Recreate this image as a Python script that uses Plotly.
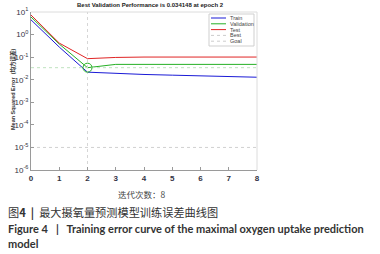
import plotly.graph_objects as go

epochs = [0, 1, 2, 3, 4, 5, 6, 7, 8]
train = [4.5, 0.28, 0.0216, 0.0189, 0.0171, 0.0159, 0.0149, 0.0139, 0.0129]
validation = [6.0, 0.38, 0.034148, 0.0478, 0.0478, 0.0478, 0.0478, 0.0478, 0.0478]
test = [7.35, 0.42, 0.0857, 0.097, 0.101, 0.101, 0.101, 0.101, 0.101]
best_epoch = 2
best_value = 0.034148
goal = 1e-5
ytick_exp = [1, 0, -1, -2, -3, -4, -5, -6]
xticks = [0, 1, 2, 3, 4, 5, 6, 7, 8]

C_TRAIN = "#1a1ad6"
C_VAL = "#25b025"
C_TEST = "#e02525"

fig = go.Figure()
fig.add_trace(go.Scatter(x=epochs, y=train, mode="lines", line=dict(color=C_TRAIN, width=1), showlegend=False))
fig.add_trace(go.Scatter(x=epochs, y=validation, mode="lines", line=dict(color=C_VAL, width=1), showlegend=False))
fig.add_trace(go.Scatter(x=epochs, y=test, mode="lines", line=dict(color=C_TEST, width=1), showlegend=False))
# best lines
fig.add_trace(go.Scatter(x=[epochs[0], epochs[-1]], y=[best_value, best_value], mode="lines",
                         line=dict(color="#bfe3bf", width=1, dash="dot"), showlegend=False))
fig.add_trace(go.Scatter(x=[best_epoch, best_epoch], y=[10 ** ytick_exp[-1], 10 ** ytick_exp[0]], mode="lines",
                         line=dict(color="#d6d6d6", width=1, dash="dot"), showlegend=False))
fig.add_trace(go.Scatter(x=[epochs[0], epochs[-1]], y=[goal, goal], mode="lines",
                         line=dict(color="#d0d0d0", width=1, dash="dot"), showlegend=False))
fig.add_trace(go.Scatter(x=[best_epoch], y=[best_value], mode="markers",
                         marker=dict(symbol="circle-open", size=9, color=C_VAL, line=dict(width=1)), showlegend=False))

L, R, T, B = 31, 257, 12, 170
W, H = 380, 254

fig.update_layout(
    width=W, height=H,
    margin=dict(l=L, r=W - R, t=T, b=H - B),
    paper_bgcolor="white", plot_bgcolor="white",
    showlegend=False, hovermode=False,
)
fig.update_xaxes(range=[0, 8], tickvals=xticks, ticktext=[str(v) for v in xticks], automargin=False,
                 showgrid=False, zeroline=False, showline=True, linecolor="#9a9a9a", linewidth=1,
                 ticks="inside", ticklen=3, tickcolor="#9a9a9a", mirror=False,
                 tickfont=dict(family="Liberation Sans", size=8, color="#333344", weight="bold"))
fig.update_yaxes(type="log", range=[-6, 1], tickvals=[10 ** e for e in ytick_exp], automargin=False,
                 ticktext=[f"10<sup>{e}</sup>" for e in ytick_exp],
                 showgrid=False, zeroline=False, showline=True, linecolor="#9a9a9a", linewidth=1,
                 ticks="inside", ticklen=3, tickcolor="#9a9a9a",
                 tickfont=dict(family="Liberation Sans", size=8, color="#333344"))

# top & right border
fig.add_shape(type="line", xref="paper", yref="paper", x0=0, x1=1, y0=1, y1=1, line=dict(color="#dcdcdc", width=1))
fig.add_shape(type="line", xref="paper", yref="paper", x0=1, x1=1, y0=0, y1=1, line=dict(color="#dcdcdc", width=1))

def px(x):
    return (x - L) / (R - L)

def py(y):
    return (B - y) / (B - T)

# title
fig.add_annotation(text="<b>Best Validation Performance is 0.034148 at epoch 2</b>", x=px(150), y=py(5),
                   xref="paper", yref="paper", showarrow=False, xanchor="center", yanchor="middle",
                   font=dict(family="Liberation Sans", size=6, color="#222"))
# y label
fig.add_annotation(text="<b>Mean Squared Error  (均方误差)</b>", x=px(13), y=py(90), textangle=-90,
                   xref="paper", yref="paper", showarrow=False, xanchor="center", yanchor="middle",
                   font=dict(family="Liberation Sans, Noto Sans CJK SC", size=5.5, color="#333"))
# x label
fig.add_annotation(text="迭代次数：8", x=px(142), y=py(194),
                   xref="paper", yref="paper", showarrow=False, xanchor="center", yanchor="middle",
                   font=dict(family="Noto Sans CJK SC", size=8.5, color="#444"))

# legend box
lx0, lx1, ly0, ly1 = 209, 254, 14, 46
fig.add_shape(type="rect", xref="paper", yref="paper", x0=px(lx0), x1=px(lx1), y0=py(ly1), y1=py(ly0),
              line=dict(color="#cfcfcf", width=1), fillcolor="white")
legend_items = [("Train", C_TRAIN, "solid"), ("Validation", C_VAL, "solid"), ("Test", C_TEST, "solid"),
                ("Best", "#cccccc", "dot"), ("Goal", "#cccccc", "dot")]
for i, (name, col, dash) in enumerate(legend_items):
    yy = 18 + i * 5.8
    fig.add_shape(type="line", xref="paper", yref="paper", x0=px(211), x1=px(226), y0=py(yy), y1=py(yy),
                  line=dict(color=col, width=1, dash=dash))
    fig.add_annotation(text=name, x=px(228), y=py(yy), xref="paper", yref="paper", showarrow=False,
                       xanchor="left", yanchor="middle",
                       font=dict(family="Liberation Sans", size=5.5, color="#444"))

# captions
fig.add_annotation(text="图<b>4</b>  <b>|</b>  最大摄氧量预测模型训练误差曲线图", x=px(6), y=py(212),
                   xref="paper", yref="paper", showarrow=False, xanchor="left", yanchor="middle",
                   font=dict(family="Noto Sans CJK SC", size=11.2, color="#333"))
fig.add_annotation(text="<b>Figure 4   |   Training error curve of the maximal oxygen uptake prediction</b>",
                   x=px(6), y=py(228), xref="paper", yref="paper", showarrow=False, xanchor="left", yanchor="middle",
                   font=dict(family="Lato", size=11, color="#333"))
fig.add_annotation(text="<b>model</b>", x=px(6), y=py(243.5), xref="paper", yref="paper", showarrow=False,
                   xanchor="left", yanchor="middle", font=dict(family="Lato", size=11, color="#333"))

fig.write_html("out.html", config={"displayModeBar": False, "staticPlot": True},
               post_script="document.body.style.margin='0';document.body.style.overflow='hidden';")
